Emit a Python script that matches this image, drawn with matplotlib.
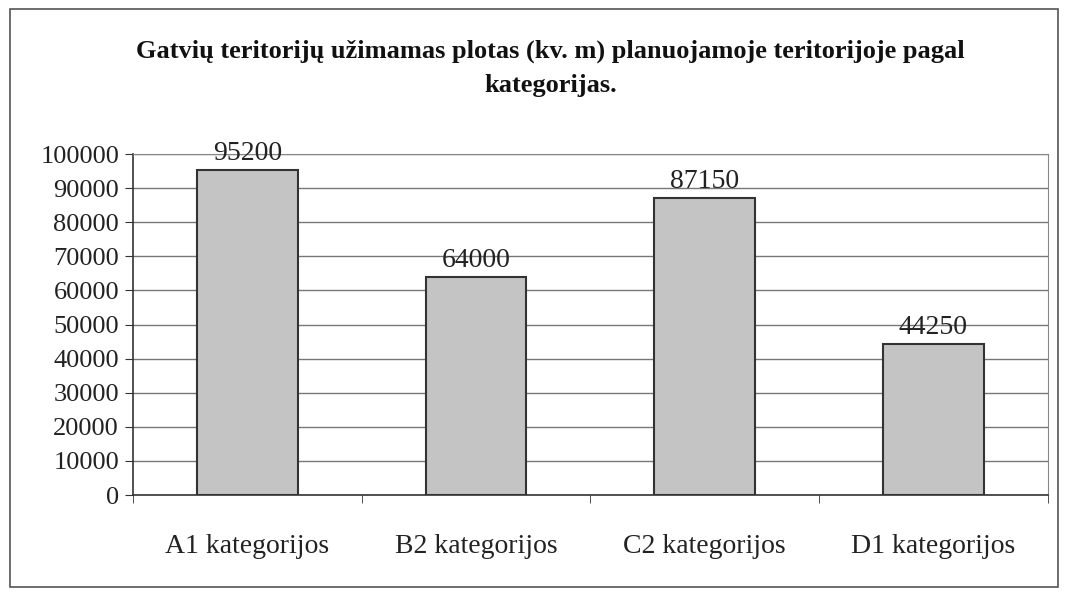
import matplotlib
matplotlib.use('Agg')
import numpy as np
import matplotlib.pyplot as plt
from matplotlib.patches import Rectangle

# duomenys
categories = ['A1 kategorijos', 'B2 kategorijos', 'C2 kategorijos', 'D1 kategorijos']
values = [95200, 64000, 87150, 44250]
y_ticks = [0, 10000, 20000, 30000, 40000, 50000, 60000, 70000, 80000, 90000, 100000]

plt.rcParams['font.family'] = ['Liberation Serif', 'DejaVu Serif']

fig = plt.figure(figsize=(10.69, 5.95), dpi=100)
fig.patches.append(Rectangle((10 / 1069, 8 / 595), 1048 / 1069, 578 / 595,
                             transform=fig.transFigure, fill=False,
                             edgecolor='#555555', linewidth=1.2))

ax = fig.add_axes([0.1244, 0.168, 0.8556, 0.573])
x = np.arange(len(categories))
ax.bar(x, values, width=0.44, color='#c4c4c4', edgecolor='#333333', linewidth=1.5, zorder=3)

for xi, v in zip(x, values):
    ax.annotate(str(v), (xi, v), xytext=(0, 3), textcoords='offset points',
                ha='center', va='bottom', fontsize=20, color='#222222')

ax.set_xlim(-0.5, len(categories) - 0.5)
ax.set_ylim(0, 100000)
ax.set_yticks(y_ticks)
ax.set_yticklabels([str(t) for t in y_ticks], fontsize=19, color='#222222')
ax.yaxis.grid(True, color='#777777', linewidth=1)
ax.set_axisbelow(True)

ax.set_xticks(x)
ax.set_xticklabels(categories, fontsize=20, color='#222222')
ax.tick_params(axis='x', which='major', length=0, pad=28)
ax.set_xticks(np.arange(-0.5, len(categories)), minor=True)
ax.tick_params(axis='x', which='minor', length=6, color='#333333')
ax.tick_params(axis='y', length=6, color='#333333', pad=4)

for s in ['left', 'bottom']:
    ax.spines[s].set_color('#333333')
    ax.spines[s].set_linewidth(1.2)
for s in ['top', 'right']:
    ax.spines[s].set_color('#888888')
    ax.spines[s].set_linewidth(0.8)

fig.text(0.515, 0.885, 'Gatvių teritorijų užimamas plotas (kv. m) planuojamoje teritorijoje pagal\nkategorijas.',
         ha='center', va='center', fontsize=19, fontweight='bold', linespacing=1.6, color='#111111')

fig.savefig('out.png', dpi=100)
